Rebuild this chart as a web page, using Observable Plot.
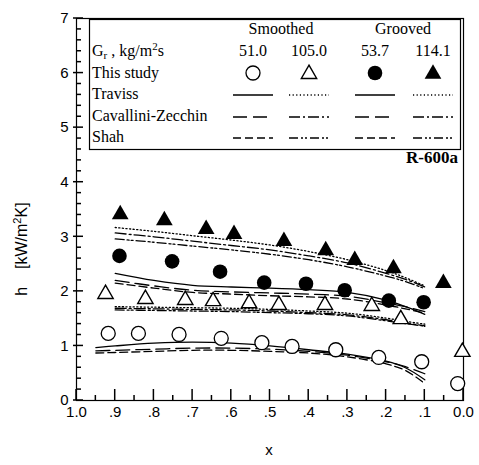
<!DOCTYPE html>
<html><head><meta charset="utf-8">
<script src="https://cdn.jsdelivr.net/npm/d3@7"></script>
<script src="https://cdn.jsdelivr.net/npm/@observablehq/plot@0.6"></script>
<style>body{margin:0;background:#fff}</style>
</head><body><div id="chart"></div><script>
// ---- tick values ----
const xMajor = [1.0,0.9,0.8,0.7,0.6,0.5,0.4,0.3,0.2,0.1,0.0];
const xMinor = [0.95,0.85,0.75,0.65,0.55,0.45,0.35,0.25,0.15,0.05];
const yMajor = [0,1,2,3,4,5,6,7];
const yMinor = d3.range(0, 7.01, 0.2).filter(v => Math.abs(v - Math.round(v)) > 0.01);
const xTickLabels = ["1.0",".9",".8",".7",".6",".5",".4",".3",".2",".1","0.0"];

// ---- legend text ----
const surfaces = ["Smoothed", "Grooved"];
const massFluxes = ["51.0", "105.0", "53.7", "114.1"];
const correlations = ["Traviss", "Cavallini-Zecchin", "Shah"];

// ---- experimental points (This study) ----
const s51_x = [0.918,0.840,0.735,0.626,0.521,0.443,0.330,0.219,0.108,0.015];
const s51_h = [1.23,1.23,1.21,1.14,1.06,0.99,0.93,0.79,0.71,0.31];
const s105_x = [0.925,0.822,0.719,0.647,0.554,0.477,0.358,0.237,0.162,0.003];
const s105_h = [1.95,1.86,1.84,1.82,1.78,1.75,1.75,1.73,1.49,0.89];
const g54_x = [0.889,0.753,0.629,0.515,0.407,0.307,0.193,0.103];
const g54_h = [2.65,2.55,2.36,2.16,2.14,2.02,1.83,1.80];
const g114_x = [0.887,0.773,0.665,0.593,0.464,0.356,0.281,0.181,0.052];
const g114_h = [3.41,3.30,3.14,3.05,2.92,2.75,2.57,2.42,2.15];

// ---- correlation curves ----
const lowX = [0.95,0.9,0.8,0.7,0.6,0.5,0.4,0.3,0.2,0.15,0.1];
const s51_traviss = [0.97,1.0,1.05,1.07,1.05,1.0,0.93,0.85,0.72,0.6,0.38];
const s51_cav     = [0.91,0.92,0.94,0.96,0.96,0.94,0.9,0.83,0.71,0.62,0.49];
const s51_shah    = [0.87,0.88,0.9,0.92,0.92,0.9,0.87,0.8,0.67,0.55,0.31];
const upX = [0.9,0.8,0.7,0.6,0.5,0.4,0.3,0.2,0.15,0.1];
const s105_traviss = [1.72,1.71,1.70,1.69,1.67,1.64,1.60,1.51,1.45,1.40];
const s105_cav     = [1.69,1.68,1.67,1.66,1.64,1.61,1.57,1.48,1.42,1.37];
const s105_shah    = [1.66,1.65,1.64,1.63,1.61,1.59,1.55,1.46,1.41,1.36];
const g54_traviss = [2.33,2.2,2.11,2.08,2.06,2.03,1.98,1.84,1.72,1.58];
const g54_cav     = [2.2,2.1,2.02,1.99,1.97,1.95,1.91,1.79,1.72,1.63];
const g54_shah    = [2.15,2.06,1.98,1.95,1.92,1.9,1.86,1.75,1.68,1.6];
const g114_traviss = [3.17,3.1,3.02,2.94,2.85,2.73,2.58,2.38,2.25,2.1];
const g114_cav     = [3.07,3.0,2.92,2.84,2.76,2.65,2.52,2.33,2.22,2.08];
const g114_shah    = [2.96,2.9,2.83,2.76,2.68,2.58,2.45,2.28,2.18,2.05];

// ---- styles ----
const dashLow = [null, "14,6", "8,4"];          // Traviss, Cavallini, Shah (51.0 & 53.7)
const dashHigh = ["1.2,2.4", "11,3,2,3", "9,3,2,2,2,3"]; // (105.0 & 114.1)

const toRows = (xs, hs) => xs.map((x, i) => ({x, h: hs[i]}));

const curves = [
  [lowX, s51_traviss, dashLow[0]], [lowX, s51_cav, dashLow[1]], [lowX, s51_shah, dashLow[2]],
  [upX, s105_traviss, dashHigh[0]], [upX, s105_cav, dashHigh[1]], [upX, s105_shah, dashHigh[2]],
  [upX, g54_traviss, dashLow[0]], [upX, g54_cav, dashLow[1]], [upX, g54_shah, dashLow[2]],
  [upX, g114_traviss, dashHigh[0]], [upX, g114_cav, dashHigh[1]], [upX, g114_shah, dashHigh[2]]
];

const lineMarks = curves.map(([xs, hs, dash]) =>
  Plot.line(toRows(xs, hs), {x: "x", y: "h", stroke: "#000", strokeWidth: 1.3,
    strokeDasharray: dash || undefined, curve: "catmull-rom"}));

const W = 479, H = 465, mL = 76, mR = 16, mT = 18, mB = 65;

const chart = Plot.plot({
  width: W, height: H,
  marginLeft: mL, marginRight: mR, marginTop: mT, marginBottom: mB,
  style: {fontFamily: "'Liberation Sans', Arial, sans-serif", fontSize: "15px", background: "#fff", color: "#000"},
  x: {domain: [1, 0]},
  y: {domain: [0, 7]},
  marks: [
    Plot.frame({stroke: "#000", strokeWidth: 1.2}),
    Plot.axisX({ticks: xMajor, tickSize: 0, tickPadding: 6, tickFormat: (d, i) => xTickLabels[i], label: null, fontSize: 15}),
    Plot.axisY({ticks: yMajor, tickSize: 0, tickPadding: 8, tickFormat: d => String(d), label: null, fontSize: 15}),
    ...lineMarks,
    Plot.dot(toRows(s51_x, s51_h), {x: "x", y: "h", r: 7, symbol: "circle", stroke: "#000", strokeWidth: 1.3, fill: "#fff"}),
    Plot.dot(toRows(s105_x, s105_h), {x: "x", y: "h", r: 5.7, symbol: "triangle", stroke: "#000", strokeWidth: 1.4, fill: "#fff"}),
    Plot.dot(toRows(g54_x, g54_h), {x: "x", y: "h", r: 7.3, symbol: "circle", fill: "#000", stroke: "none"}),
    Plot.dot(toRows(g114_x, g114_h), {x: "x", y: "h", r: 6.2, symbol: "triangle", fill: "#000", stroke: "none"})
  ]
});
document.getElementById("chart").append(chart);

// ---- inward ticks, placed through the plot's own scales ----
const svg = d3.select(chart);
const sx = chart.scale("x"), sy = chart.scale("y");
const left = sx.range[0], bottom = sy.range[0];
const tg = svg.append("g").attr("stroke", "#000").attr("stroke-width", 1.5);
const addTicks = (vals, scale, horizontal, len, out = 0) => vals.forEach(v => {
  const p = scale.apply(v);
  if (horizontal) tg.append("line").attr("x1", p).attr("x2", p).attr("y1", bottom + out).attr("y2", bottom - len);
  else tg.append("line").attr("x1", left - out).attr("x2", left + len).attr("y1", p).attr("y2", p);
});
addTicks(xMajor, sx, true, 11);
addTicks(xMinor, sx, true, 5);
addTicks(yMajor, sy, false, 7, 3);
addTicks(yMinor, sy, false, 5);

// ---- legend, axis titles, annotation ----
const serif = "'Liberation Serif', 'Times New Roman', serif";
const g = svg.append("g").attr("fill", "#000")
  .attr("text-anchor", "start").style("font-family", serif).style("font-size", "16px");
g.append("rect").attr("x", 89.5).attr("y", 19.5).attr("width", 371).attr("height", 130)
  .attr("fill", "#fff").attr("stroke", "#000").attr("stroke-width", 1.2);

const colX = [253, 309, 375, 433];
const surfX = [281, 403];
surfaces.forEach((s, i) => g.append("text").attr("x", surfX[i]).attr("y", 34).attr("text-anchor", "middle").text(s));

const gr = g.append("text").attr("x", 92).attr("y", 56);
gr.append("tspan").text("G");
gr.append("tspan").style("font-size", "11px").attr("dy", 3).text("r");
gr.append("tspan").attr("dy", -3).text(" , kg/m");
gr.append("tspan").style("font-size", "11px").attr("dy", -6).text("2");
gr.append("tspan").attr("dy", 6).text("s");
massFluxes.forEach((m, i) => g.append("text").attr("x", colX[i]).attr("y", 56).attr("text-anchor", "middle").text(m));

g.append("text").attr("x", 92).attr("y", 78).text("This study");
const symY = 73;
const circ = d3.symbol(d3.symbolCircle, Math.PI * 49)();
const tri = d3.symbol(d3.symbolTriangle, Math.PI * 5.7 * 5.7)();
const triF = d3.symbol(d3.symbolTriangle, Math.PI * 6.2 * 6.2)();
g.append("path").attr("d", circ).attr("transform", `translate(${colX[0]},${symY})`).attr("fill", "#fff").attr("stroke", "#000").attr("stroke-width", 1.3);
g.append("path").attr("d", tri).attr("transform", `translate(${colX[1]},${symY + 1})`).attr("fill", "#fff").attr("stroke", "#000").attr("stroke-width", 1.4);
g.append("path").attr("d", d3.symbol(d3.symbolCircle, Math.PI * 7.3 * 7.3)()).attr("transform", `translate(${colX[2]},${symY})`).attr("fill", "#000");
g.append("path").attr("d", triF).attr("transform", `translate(${colX[3]},${symY + 1})`).attr("fill", "#000");

const rowY = [99, 121, 142];
correlations.forEach((c, r) => {
  g.append("text").attr("x", 92).attr("y", rowY[r]).text(c);
  const styles = [dashLow[r], dashHigh[r], dashLow[r], dashHigh[r]];
  colX.forEach((cx, k) => {
    const ln = g.append("line").attr("x1", cx - 20).attr("x2", cx + 20)
      .attr("y1", rowY[r] - 4).attr("y2", rowY[r] - 4)
      .attr("stroke", "#000").attr("stroke-width", 1.3);
    if (styles[k]) ln.attr("stroke-dasharray", styles[k]);
  });
});

svg.append("text").attr("x", 458).attr("y", 163).attr("text-anchor", "end")
  .style("font-family", serif).attr("font-weight", "bold").style("font-size", "17px").text("R-600a");

const sans = "'Liberation Sans', Arial, sans-serif";
svg.append("text").attr("x", 269).attr("y", 455).attr("text-anchor", "middle")
  .style("font-family", sans).style("font-size", "15px").text("x");
const yl = svg.append("text").attr("transform", "translate(27,249) rotate(-90)")
  .attr("text-anchor", "middle").style("font-family", sans).style("font-size", "16px");
yl.append("tspan").text("h\u00a0\u00a0\u00a0\u00a0[kW/m");
yl.append("tspan").style("font-size", "11px").attr("dy", -6).text("2");
yl.append("tspan").attr("dy", 6).text("K]");
</script></body></html>
